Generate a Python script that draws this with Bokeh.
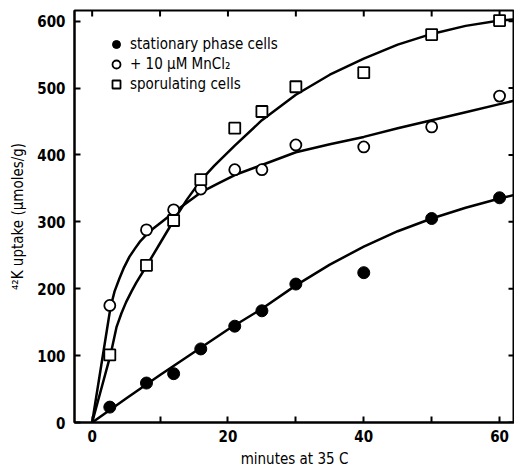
import math
from bokeh.plotting import figure
from bokeh.models import Range1d, FixedTicker, Legend, LegendItem
from bokeh.embed import file_html
from bokeh.resources import INLINE

# ---- data ----
t_points = [2.6, 8, 12, 16, 21, 25, 30, 40, 50, 60]
stationary = [23, 59, 73, 110, 144, 167, 207, 224, 305, 336]
mncl2 = [175, 288, 318, 349, 378, 378, 415, 412, 442, 488]
sporulating = [101, 235, 302, 363, 440, 465, 502, 523, 580, 601]

# hand-fitted curves
stat_curve_t = [0, 5, 10, 15, 20, 25, 30, 35, 40, 45, 50, 55, 60, 62.5]
stat_curve_y = [0, 36, 71, 105, 139, 170, 205, 236, 263, 286, 305, 321, 335, 341]

mn_curve_t = [0, 2.7, 3.3, 4, 4.7, 5.5, 6.3, 7, 8, 9, 10, 12, 14, 16, 18.5, 21, 25, 30, 35, 40, 45, 50, 55, 60, 62.5]
mn_curve_y = [0, 172, 196, 215, 232, 248, 260, 270, 281, 290, 298, 314, 329, 344, 357, 370, 385, 404, 416, 427, 440, 452, 464, 476, 482]

sp_curve_t = [0, 2.7, 3.6, 4.3, 5, 5.8, 6.5, 8, 10, 12, 14, 16, 18, 21, 25, 30, 35, 40, 45, 50, 55, 60, 62.5]
sp_curve_y = [0, 101, 143, 163, 180, 196, 209, 234, 268, 302, 334, 362, 384, 414, 452, 490, 520, 544, 565, 581, 593, 601, 603]

x_major = [0, 20, 40, 60]
x_minor = [10, 30, 50]
x_top_ticks = [0, 10, 20, 30, 40, 50, 60]
y_ticks = [0, 100, 200, 300, 400, 500, 600]

X_START, X_END = -2.6, 62.2
Y_START, Y_END = 0, 616

FONT = "'DejaVu Sans Condensed', Roboto, sans-serif"

p = figure(width=514, height=470, output_backend="svg", toolbar_location=None,
           x_range=Range1d(X_START, X_END), y_range=Range1d(Y_START, Y_END),
           min_border_left=74, min_border_top=10, min_border_right=0, min_border_bottom=48)
p.grid.visible = False
p.outline_line_color = "black"
p.outline_line_width = 2
p.background_fill_color = "white"
p.border_fill_color = "white"

for ax in p.xaxis:
    ax.ticker = FixedTicker(ticks=x_major, minor_ticks=x_minor)
    ax.axis_label = "minutes at 35 C"
for ax in p.yaxis:
    ax.ticker = FixedTicker(ticks=y_ticks, minor_ticks=[])
    ax.axis_label = "⁴²K uptake (μmoles/g)"

for ax in list(p.xaxis) + list(p.yaxis):
    ax.major_tick_in = 6
    ax.major_tick_out = 0
    ax.minor_tick_in = 6
    ax.minor_tick_out = 0
    ax.major_tick_line_width = 2
    ax.minor_tick_line_width = 2
    ax.axis_line_width = 2
    ax.major_label_text_font = FONT
    ax.major_label_text_font_size = "15px"
    ax.major_label_text_font_style = "bold"
    ax.major_label_text_color = "black"
    ax.axis_label_text_font = FONT
    ax.axis_label_text_font_size = "15px"
    ax.axis_label_text_font_style = "normal"
    ax.axis_label_text_color = "black"
p.xaxis.major_label_standoff = 7
p.xaxis.axis_label_standoff = 5
p.yaxis.major_label_standoff = 9
p.yaxis.axis_label_standoff = 7

# inward tick marks on the right and top edges of the frame (clipped to frame)
p.scatter([X_END] * len(y_ticks), y_ticks, marker="dash", size=12,
          line_color="black", line_width=2)
p.scatter(x_top_ticks, [Y_END] * len(x_top_ticks), marker="dash", size=12,
          angle=math.pi / 2, line_color="black", line_width=2)

# fitted curves
p.line(stat_curve_t, stat_curve_y, line_color="black", line_width=2.5, line_join="round")
p.line(mn_curve_t, mn_curve_y, line_color="black", line_width=2.5, line_join="round")
p.line(sp_curve_t, sp_curve_y, line_color="black", line_width=2.5, line_join="round")

# points
r1 = p.scatter(t_points, stationary, marker="circle", size=12,
               fill_color="black", line_color="black", line_width=1)
r2 = p.scatter(t_points, mncl2, marker="circle", size=11,
               fill_color="white", line_color="black", line_width=1.8)
r3 = p.scatter(t_points, sporulating, marker="square", size=11,
               fill_color="white", line_color="black", line_width=1.8)

legend = Legend(items=[
    LegendItem(label="stationary phase cells", renderers=[r1]),
    LegendItem(label="+ 10 μM MnCl₂", renderers=[r2]),
    LegendItem(label="sporulating cells", renderers=[r3]),
], location=(32, 328), padding=0, margin=0, spacing=0,
    glyph_width=20, glyph_height=20, label_height=20, label_standoff=4,
    border_line_color=None, background_fill_alpha=0,
    label_text_font=FONT, label_text_font_size="15px", label_text_font_style="normal",
    label_text_color="black")
p.add_layout(legend, "center")

open("out.html", "w").write(file_html(p, INLINE))
